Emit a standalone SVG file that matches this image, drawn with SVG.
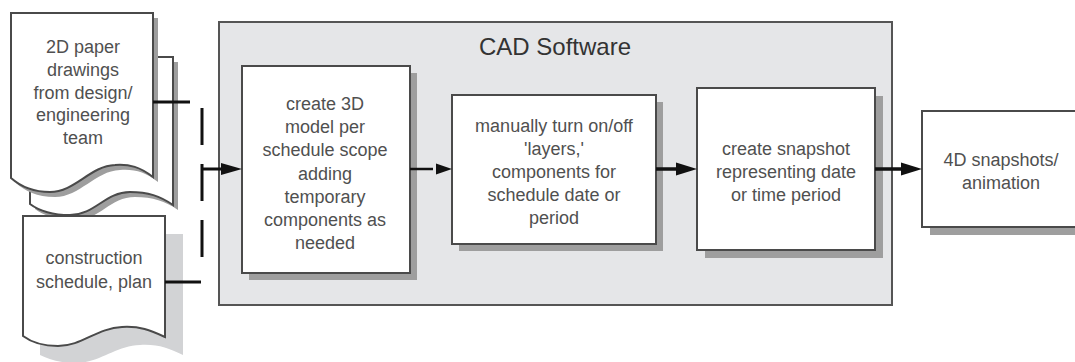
<svg xmlns="http://www.w3.org/2000/svg" width="1075" height="362" viewBox="0 0 1075 362">
  <style>
    .page { fill: #ffffff; stroke: #4a4a4a; stroke-width: 2; stroke-linejoin: miter; }
    .shade { fill: #9e9e9e; }
    .shade-lt { fill: #d2d3d5; }
    .box { fill: #ffffff; stroke: #4a4a4a; stroke-width: 2; }
    .frame { fill: #e5e6e8; stroke: #555555; stroke-width: 2; }
    .lbl { font-family: "Liberation Sans", Arial, sans-serif; font-size: 18px; fill: #505050; text-anchor: middle; }
    .title { font-family: "Liberation Sans", Arial, sans-serif; font-size: 24px; fill: #333333; text-anchor: middle; }
    .wire { stroke: #111111; fill: none; }
    .head { fill: #111111; }
  </style>

  <!-- software container -->
  <g id="cad-software">
    <rect class="frame" x="219" y="22" width="673" height="283"/>
    <text class="title" x="555" y="55">CAD Software</text>
  </g>

  <!-- stacked drawing sheets -->
  <g id="paper-drawings">
    <path class="shade" d="M35,62 H178 V210 C165,201 153,197 135,197 C110,197 100,220 75,220 C55,220 43,215 35,209 Z"/>
    <path class="page" d="M30,57 H173 V205 C160,196 148,192 130,192 C105,192 95,215 70,215 C50,215 38,210 30,204 Z"/>
    <path class="shade" d="M16,18 H158 V182 C145,172 135,169 120,170 C95,171 80,197 55,197 C37,197 25,191 16,183 Z"/>
    <path class="page" d="M11,13 H153 V177 C140,167 130,164 115,165 C90,166 75,192 50,192 C32,192 20,186 11,178 Z"/>
    <text class="lbl" x="83" y="53">2D paper</text>
    <text class="lbl" x="83" y="76">drawings</text>
    <text class="lbl" x="83" y="99">from design/</text>
    <text class="lbl" x="83" y="121">engineering</text>
    <text class="lbl" x="83" y="144">team</text>
  </g>

  <!-- schedule document -->
  <g id="schedule-plan">
    <path class="shade-lt" d="M40,234 H183 V355 C168,348 158,344 140,345 C115,346 100,363 75,363 C60,363 48,359 40,355 Z"/>
    <path class="page" d="M23,216 H165 V337 C150,330 140,326 122,327 C97,328 82,346 58,346 C43,346 31,342 23,336 Z"/>
    <text class="lbl" x="94" y="264">construction</text>
    <text class="lbl" x="94" y="288">schedule, plan</text>
  </g>

  <!-- step 1 -->
  <g id="create-model">
    <rect class="shade" x="249" y="73" width="168" height="207"/>
    <rect class="box" x="242" y="66" width="168" height="207"/>
    <text class="lbl" x="325" y="110">create 3D</text>
    <text class="lbl" x="325" y="133">model per</text>
    <text class="lbl" x="325" y="156">schedule scope</text>
    <text class="lbl" x="325" y="180">adding</text>
    <text class="lbl" x="325" y="203">temporary</text>
    <text class="lbl" x="325" y="226">components as</text>
    <text class="lbl" x="325" y="249">needed</text>
  </g>

  <!-- step 2 -->
  <g id="toggle-layers">
    <rect class="shade" x="459" y="102" width="204" height="149"/>
    <rect class="box" x="452" y="95" width="204" height="149"/>
    <text class="lbl" x="554" y="132">manually turn on/off</text>
    <text class="lbl" x="554" y="155">'layers,'</text>
    <text class="lbl" x="554" y="178">components for</text>
    <text class="lbl" x="554" y="201">schedule date or</text>
    <text class="lbl" x="554" y="224">period</text>
  </g>

  <!-- step 3 -->
  <g id="create-snapshot">
    <rect class="shade" x="705" y="96" width="178" height="162"/>
    <rect class="box" x="697" y="88" width="178" height="162"/>
    <text class="lbl" x="786" y="155">create snapshot</text>
    <text class="lbl" x="786" y="178">representing date</text>
    <text class="lbl" x="786" y="201">or time period</text>
  </g>

  <!-- output -->
  <g id="snapshots-animation">
    <rect class="shade" x="930" y="119" width="160" height="116"/>
    <rect class="box" x="922" y="111" width="160" height="116"/>
    <text class="lbl" x="1001" y="166">4D snapshots/</text>
    <text class="lbl" x="1001" y="189">animation</text>
  </g>

  <!-- connectors -->
  <g id="connectors">
    <line class="wire" x1="153" y1="102" x2="190" y2="102" stroke-width="3"/>
    <line class="wire" x1="165" y1="282" x2="201" y2="282" stroke-width="3"/>
    <line class="wire" x1="202" y1="108" x2="202" y2="262" stroke-width="3" stroke-dasharray="37 19"/>
    <line class="wire" x1="202" y1="169" x2="224" y2="169" stroke-width="3"/>
    <polygon class="head" points="242,169 221,163 221,175"/>

    <line class="wire" x1="410" y1="169" x2="433" y2="169" stroke-width="2.5"/>
    <polygon class="head" points="452,169 436,163.5 436,174.5"/>

    <line class="wire" x1="656" y1="169" x2="680" y2="169" stroke-width="3.5"/>
    <polygon class="head" points="697,169 676,162.5 676,175.5"/>

    <line class="wire" x1="875" y1="169" x2="904" y2="169" stroke-width="3.5"/>
    <polygon class="head" points="922,169 901,162.5 901,175.5"/>
  </g>
</svg>
